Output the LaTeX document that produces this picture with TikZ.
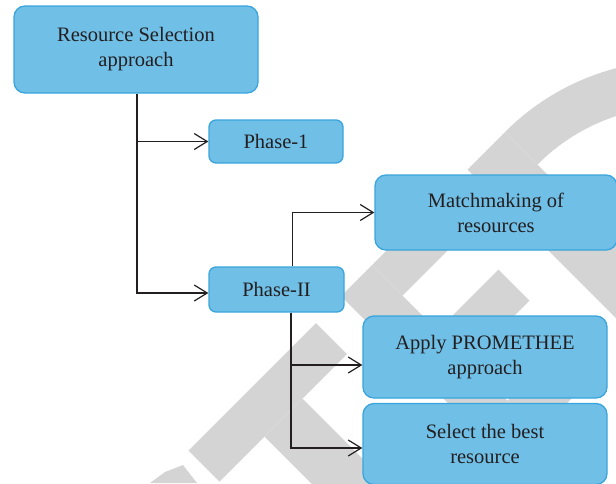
\documentclass[tikz,border=0pt]{standalone}
\usepackage{fontspec}
\setmainfont{Liberation Serif}
\usepackage{xcolor}
\definecolor{boxblue}{HTML}{70BFE7}
\definecolor{boxedge}{HTML}{3AA5DC}
\definecolor{inkgray}{HTML}{231F20}
\definecolor{markgray}{HTML}{D4D4D4}
\usetikzlibrary{arrows.meta}
\tikzset{
  pbox/.style ={rectangle, rounded corners=11pt, draw=boxedge, fill=boxblue, line width=1.3pt,
                align=center, text=inkgray, inner sep=0pt, font=\fontsize{20.5}{25}\selectfont},
  phbox/.style={pbox, rounded corners=7pt},
  arr/.style  ={-{Straight Barb[length=13pt,width=16pt]}, line width=1.2pt, draw=inkgray},
  mark/.style ={fill=markgray},
}

\begin{document}
\begin{tikzpicture}[x=1pt, y=-1pt]
  \useasboundingbox (0,0) rectangle (616,483);

  % watermark letters, laid out along the diagonal (p = x-y, q = x+y)
  \begin{scope}
    \clip (0,0) rectangle (616,483);
    \fill[markgray] (150,483) -- (165,472) -- (183,465) -- (197,483) -- cycle;
    \begin{scope}[cm={0.5,0.5,-0.5,0.5,(0,0)}]
      % T
      \fill[markgray] (-262,639) rectangle (-7,701);
      \fill[markgray] (-172,701) rectangle (-96,970);
      % E
      \fill[markgray] (45,637) rectangle (107,970);
      \fill[markgray] (107,637) rectangle (245,698);
      \fill[markgray] (107,768) rectangle (229,830);
      \fill[markgray] (107,908) rectangle (245,970);
      % D
      \fill[markgray] (298,637) rectangle (373,970);
      \begin{scope}
        \clip (373,600) rectangle (900,1000);
        \fill[markgray, even odd rule] (373,984) circle[radius=347] (373,984) circle[radius=282];
      \end{scope}
    \end{scope}
  \end{scope}

  \node[pbox, minimum width=244, minimum height=87] (root) at (136,49.5) {Resource Selection\\approach};
  \node[phbox, minimum width=134, minimum height=43] (ph1) at (276,141.5) {Phase-1};
  \node[phbox, minimum width=135, minimum height=45] (ph2) at (276.5,289.5) {Phase-II};
  \node[pbox, minimum width=242, minimum height=75] (match) at (496,212.5) {Matchmaking of\\resources};
  \node[pbox, minimum width=244, minimum height=82] (apply) at (485,357) {Apply PROMETHEE\\approach};
  \node[pbox, minimum width=244, minimum height=81] (select) at (485,444) {Select the best\\resource};

  \draw[arr] ([xshift=1pt]root.south) |- (ph1.west);
  \draw[arr] ([xshift=1pt]root.south) |- ([yshift=-3.5pt]ph2.west);
  \draw[arr] ([xshift=16pt]ph2.north) |- (match.west);
  \draw[arr] ([xshift=14.5pt]ph2.south) |- ([yshift=-8pt]apply.west);
  \draw[arr] ([xshift=14.5pt]ph2.south) |- ([yshift=-4pt]select.west);
\end{tikzpicture}
\end{document}
